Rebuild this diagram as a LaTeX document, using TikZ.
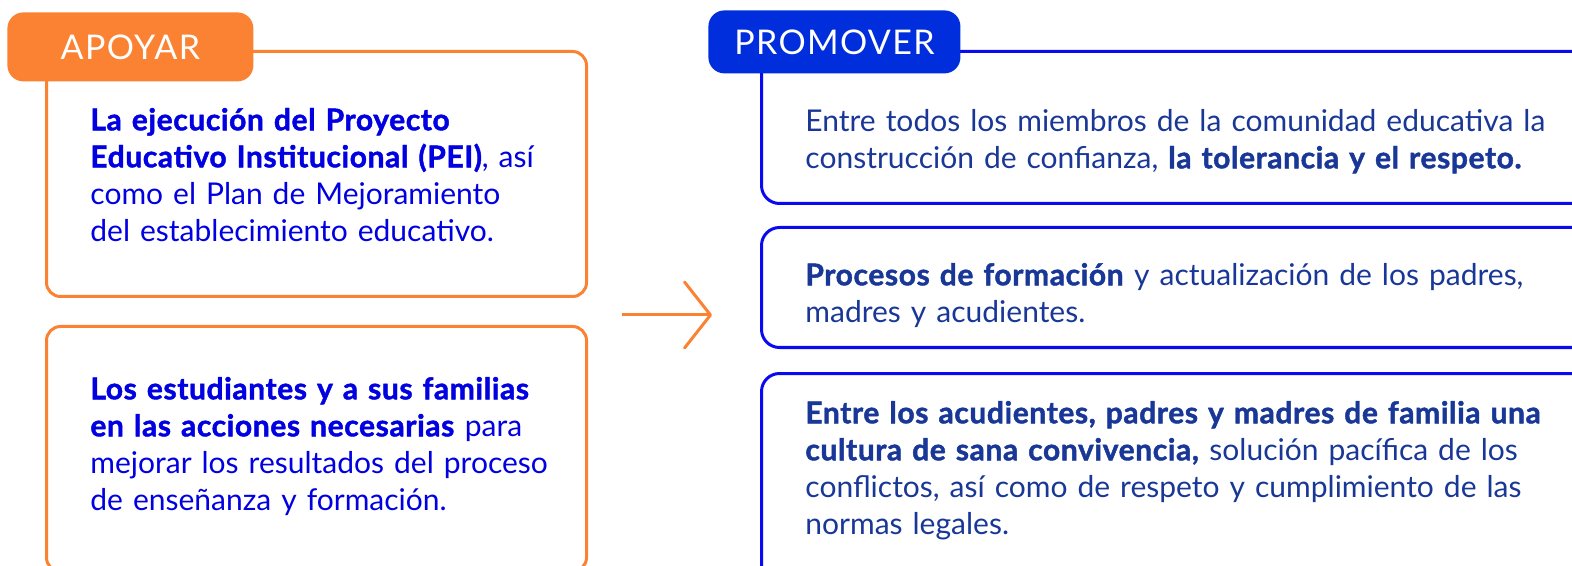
\documentclass[tikz,border=0pt]{standalone}
\usepackage{fontspec}
\setmainfont{Lato}[BoldFeatures={FakeBold=1.5, LetterSpace=2}]
\definecolor{apoyorange}{RGB}{250, 130, 50}
\definecolor{promblue}{RGB}{0, 46, 220}
\definecolor{lineblue}{RGB}{10, 10, 240}
\definecolor{textblue}{RGB}{0, 0, 225}
\definecolor{textnavy}{RGB}{25, 55, 150}
\usetikzlibrary{arrows.meta, positioning}

\tikzset{
  obox/.style={draw=apoyorange, line width=1.5pt, rounded corners=7pt, anchor=north west,
    minimum width=270pt, minimum height=122.5pt, inner sep=0pt},
  bbox/.style={draw=lineblue, line width=1.5pt, rounded corners=9pt, anchor=north west,
    minimum width=420pt, inner sep=0pt},
  tabnode/.style={rounded corners=8pt, anchor=north west, text=white, inner sep=0pt,
    font=\fontsize{17}{20}\selectfont\addfontfeatures{LetterSpace=4}},
  bodytext/.style={anchor=north west, inner sep=0pt, text width=420pt, align=left,
    font=\fontsize{15}{18.5}\selectfont, execute at begin node=\strut},
}

\begin{document}
\begin{tikzpicture}[x=0.5pt, y=-0.5pt]
  \path[use as bounding box, clip] (0,0) rectangle (1572,566);

  % apoyar column
  \node[obox] (apoyo1) at (45,50) {};
  \node[obox] (apoyo2) at (45,325) {};
  \node[tabnode, fill=apoyorange, minimum width=123pt, minimum height=34.5pt] (apoyar) at (7,12) {APOYAR};
  \node[bodytext, text=textblue, below right=27pt and 22.5pt of apoyo1.north west] (apoyo1txt) {%
    \textbf{La ejecución del Proyecto}\\
    \textbf{Educativo Institucional (PEI)}, así\\
    como el Plan de Mejoramiento\\
    del establecimiento educativo.};
  \node[bodytext, text=textblue, below right=24pt and 22.5pt of apoyo2.north west] (apoyo2txt) {%
    \textbf{Los estudiantes y a sus familias}\\
    \textbf{en las acciones necesarias} para\\
    mejorar los resultados del proceso\\
    de enseñanza y formación.};

  % arrow between columns
  \coordinate (arrowtail) at (622,315);
  \coordinate (arrowhead) at (712,315);
  \draw[apoyorange, line width=1.5pt, -{Straight Barb[length=13pt, width=33pt, round]}] (arrowtail) -- (arrowhead);

  % promover column
  \node[bbox, minimum height=76pt] (prom1) at (760,50) {};
  \node[bbox, minimum height=60pt] (prom2) at (760,226) {};
  \node[bbox, minimum height=114pt] (prom3) at (760,372) {};
  \node[tabnode, fill=promblue, minimum width=126pt, minimum height=31.5pt] (promover) at (708,10) {PROMOVER};
  \node[bodytext, text=textnavy, below right=27.5pt and 22.5pt of prom1.north west] (prom1txt) {%
    Entre todos los miembros de la comunidad educativa la\\
    construcción de confianza, \textbf{la tolerancia y el respeto.}};
  \node[bodytext, text=textnavy, below right=16.5pt and 22.5pt of prom2.north west] (prom2txt) {%
    \textbf{Procesos de formación} y actualización de los padres,\\
    madres y acudientes.};
  \node[bodytext, text=textnavy, below right=12.5pt and 22.5pt of prom3.north west] (prom3txt) {%
    \textbf{Entre los acudientes, padres y madres de familia una}\\
    \textbf{cultura de sana convivencia,} solución pacífica de los\\
    conflictos, así como de respeto y cumplimiento de las\\
    normas legales.};
\end{tikzpicture}
\end{document}
